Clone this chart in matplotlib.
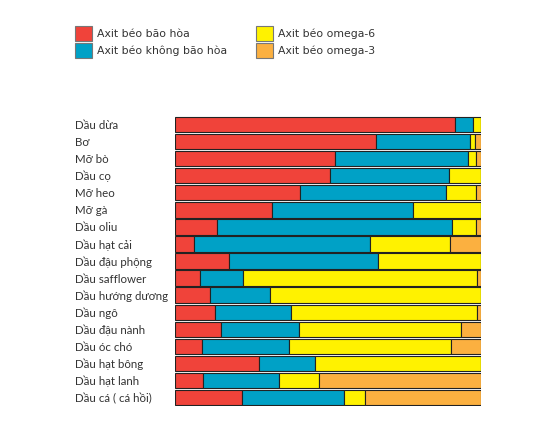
import numpy as np
import matplotlib
matplotlib.use("Agg")
import matplotlib.pyplot as plt
from matplotlib.patches import Patch

plt.rcParams['font.family'] = ['Lato', 'DejaVu Sans']

oils = ["Dầu dừa", "Bơ", "Mỡ bò", "Dầu cọ", "Mỡ heo", "Mỡ gà", "Dầu oliu",
        "Dầu hạt cải", "Dầu đậu phộng", "Dầu safflower", "Dầu hướng dương",
        "Dầu ngô", "Dầu đậu nành", "Dầu óc chó", "Dầu hạt bông",
        "Dầu hạt lanh", "Dầu cá ( cá hồi)"]

saturated = [91.6, 65.8, 52.4, 50.8, 41.0, 31.6, 13.7, 6.1, 17.6, 8.3, 11.4,
             13.1, 15.0, 8.8, 27.5, 9.0, 21.9]
unsaturated = [5.7, 30.5, 43.5, 38.6, 47.6, 46.2, 76.7, 57.6, 48.7, 13.9, 19.8,
               24.8, 25.4, 28.5, 18.1, 25.1, 33.2]
omega6 = [2.7, 1.6, 2.6, 10.6, 9.8, 22.2, 7.9, 26.2, 33.7, 76.5, 68.8,
          60.9, 53.2, 52.8, 54.4, 13.1, 7.0]
omega3 = [0.0, 2.1, 1.5, 0.0, 1.6, 0.0, 1.7, 10.1, 0.0, 1.3, 0.0,
          1.2, 6.4, 9.9, 0.0, 52.8, 37.9]

series = [
    ("Axit béo bão hòa", saturated, "#F0433A"),
    ("Axit béo không bão hòa", unsaturated, "#00A1C6"),
    ("Axit béo omega-6", omega6, "#FFF200"),
    ("Axit béo omega-3", omega3, "#FBB040"),
]

fig = plt.figure(figsize=(5.5, 4.48), dpi=100)
ax = fig.add_axes([175 / 550, 1 - 406 / 448, 306 / 550, 290 / 448])

y = np.arange(len(oils))
left = np.zeros(len(oils))
for name, vals, color in series:
    vals = np.array(vals)
    ax.barh(y, vals, left=left, height=0.9, color=color,
            edgecolor="#222222", linewidth=0.8)
    left += vals

ax.set_xlim(0, 100)
ax.set_ylim(len(oils) - 0.5, -0.5)
ax.set_yticks(y)
ax.set_yticklabels(oils, fontsize=8.3, ha="left", color="#333333")
ax.tick_params(axis="y", length=0, pad=72)
ax.set_xticks([])
for s in ax.spines.values():
    s.set_visible(False)

handles = [Patch(facecolor=c, edgecolor="#777777", linewidth=0.8) for _, _, c in series]
labels = [n for n, _, _ in series]
fig.legend(handles, labels, ncol=2, loc="upper left",
           bbox_to_anchor=(75 / 550, 1 - 26 / 448), frameon=False,
           borderpad=0, borderaxespad=0,
           prop={"family": "DejaVu Sans", "size": 7.8},
           handlelength=1.6, handleheight=1.75,
           handletextpad=0.45, labelspacing=0.15, columnspacing=2.6,
           labelcolor="#333333")

fig.savefig("out.png", dpi=100)
